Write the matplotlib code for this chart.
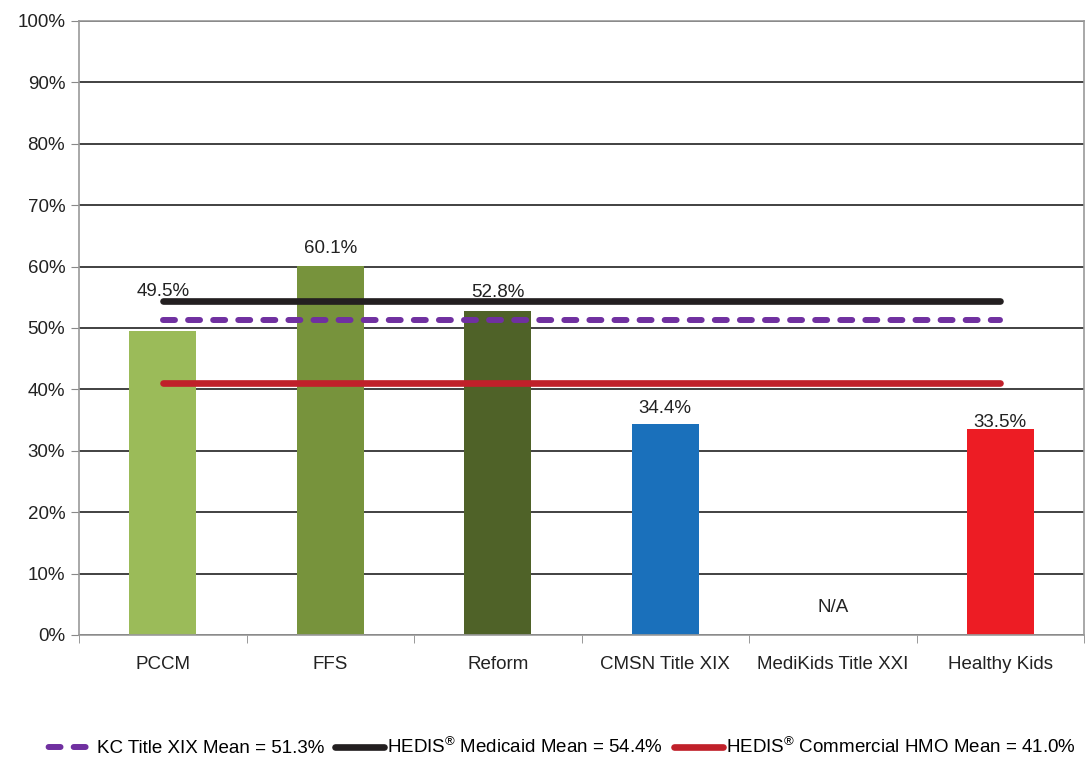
import numpy as np
import matplotlib.pyplot as plt
from matplotlib.lines import Line2D

plt.rcParams['font.family'] = ['Liberation Sans', 'DejaVu Sans']
plt.rcParams['mathtext.fontset'] = 'custom'
plt.rcParams['mathtext.rm'] = 'Liberation Sans'

categories = ['PCCM', 'FFS', 'Reform', 'CMSN Title XIX', 'MediKids Title XXI', 'Healthy Kids']
values = [49.5, 60.1, 52.8, 34.4, np.nan, 33.5]
bar_colors = ['#9bbb59', '#77933c', '#4f6228', '#1a70bb', '#ffffff', '#ed1c24']
label_gap = [25, 9.5, 10, 8, 8, 1.5]  # points above bar top, labels moved by hand in original

kc_mean = 51.3
medicaid_mean = 54.4
commercial_mean = 41.0

fs = 13.5
txt = '#222222'

fig = plt.figure(figsize=(10.9, 7.59), dpi=100)
ax = fig.add_axes([0.0725, 0.1634, 0.922, 0.809])

x = np.arange(len(categories))
ax.bar(x, np.nan_to_num(values), width=0.4, color=bar_colors, zorder=2)

for i, v in enumerate(values):
    if np.isnan(v):
        ax.text(x[i], 4.5, 'N/A', ha='center', va='center', fontsize=fs, color=txt)
    else:
        ax.annotate(f'{v:.1f}%', (x[i], v), xytext=(0, label_gap[i]),
                    textcoords='offset points', ha='center', va='baseline',
                    fontsize=fs, color=txt, zorder=4)

dash = (0, (2.0, 2.2))
lx = [x[0], x[-1]]
ax.plot(lx, [kc_mean] * 2, color='#7030a0', lw=4.3, ls=dash,
        solid_capstyle='round', dash_capstyle='round', zorder=3)
ax.plot(lx, [medicaid_mean] * 2, color='#231f20', lw=4.8,
        solid_capstyle='round', zorder=3)
ax.plot(lx, [commercial_mean] * 2, color='#c0202a', lw=4.8,
        solid_capstyle='round', zorder=3)

ax.set_xlim(-0.5, len(categories) - 0.5)
ax.set_ylim(0, 100)
ax.set_yticks(np.arange(0, 101, 10))
ax.set_yticklabels([f'{t}%' for t in range(0, 101, 10)])
ax.yaxis.grid(True, color='#333333', lw=1.3)
ax.set_axisbelow(True)
ax.set_xticks(x)
ax.set_xticklabels(categories)
ax.set_xticks(np.arange(-0.5, len(categories)), minor=True)
ax.tick_params(axis='x', which='major', length=0, pad=15, labelsize=fs, labelcolor=txt)
ax.tick_params(axis='x', which='minor', length=6, color='#888888')
ax.tick_params(axis='y', length=6, color='#888888', labelsize=fs, labelcolor=txt, pad=4)
for s in ax.spines.values():
    s.set_color('#999999')
    s.set_linewidth(1.2)

handles = [
    Line2D([], [], color='#7030a0', lw=4.3, ls=(3.6, (2.0, 2.2)), dash_capstyle='round'),
    Line2D([], [], color='#231f20', lw=4.8, solid_capstyle='round'),
    Line2D([], [], color='#c0202a', lw=4.8, solid_capstyle='round'),
]
labels = [f'KC Title XIX Mean = {kc_mean:.1f}%',
          f'HEDIS$^{{\u00ae}}$ Medicaid Mean = {medicaid_mean:.1f}%',
          f'HEDIS$^{{\u00ae}}$ Commercial HMO Mean = {commercial_mean:.1f}%']
fig.legend(handles, labels, loc='center', bbox_to_anchor=(0.514, 0.016), ncol=3,
           frameon=False, fontsize=fs, handlelength=2.6, handletextpad=0.15,
           columnspacing=0.6)

fig.savefig('out.png', dpi=100)
